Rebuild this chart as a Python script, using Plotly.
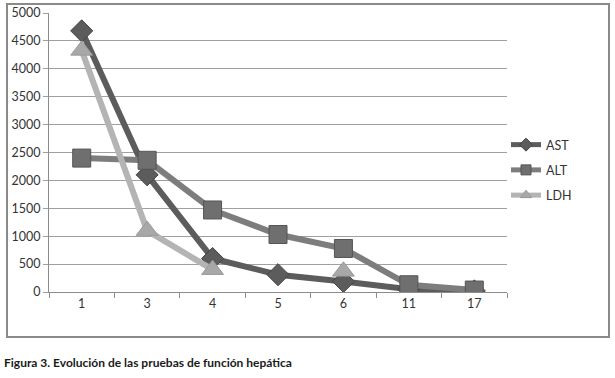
import plotly.graph_objects as go

categories = ["1", "3", "4", "5", "6", "11", "17"]
ast = [4680, 2100, 600, 310, 190, 50, 20]
alt = [2400, 2360, 1470, 1030, 780, 130, 35]
ldh = [4330, 1100, 400, None, 370, None, None]
y_ticks = [0, 500, 1000, 1500, 2000, 2500, 3000, 3500, 4000, 4500, 5000]
caption = "Figura 3. Evolución de las pruebas de función hepática"

W, H = 615, 378
L, R, T, B = 49, 108, 13, 86
pw, ph = W - L - R, H - T - B


def px(xp):
    return (xp - L) / pw


def py(yp):
    return (H - B - yp) / ph


series = [
    ("AST", ast, "#5c5c5c", "#5c5c5c", "#444444", "diamond", 17),
    ("ALT", alt, "#7d7d7d", "#6f6f6f", "#555555", "square", 18),
    ("LDH", ldh, "#b4b4b4", "#a8a8a8", "#999999", "triangle-up", 19),
]

fig = go.Figure()
for name, vals, lc, mc, ml, sym, sz in series:
    fig.add_trace(go.Scatter(
        x=categories, y=vals, name=name, mode="lines+markers", showlegend=False,
        line=dict(color=lc, width=6),
        marker=dict(symbol=sym, size=sz, color=mc, line=dict(color=ml, width=1)),
        connectgaps=False,
    ))
for name, vals, lc, mc, ml, sym, sz in series:
    fig.add_trace(go.Scatter(
        x=[None], y=[None], name=name, mode="lines+markers", legendgroup=name,
        line=dict(color=lc, width=5),
        marker=dict(symbol=sym, size=10, color=mc, line=dict(color=ml, width=1)),
    ))

fig.add_shape(type="rect", xref="paper", yref="paper",
              x0=px(7), x1=px(609), y0=py(337), y1=py(4),
              line=dict(color="#8a8a8a", width=2), fillcolor="rgba(0,0,0,0)", layer="above")

fig.add_annotation(text="<b>" + caption + "</b>", xref="paper", yref="paper",
                   x=px(2), y=py(362), xanchor="left", yanchor="middle", showarrow=False,
                   font=dict(family="Lato, Roboto, sans-serif", size=12, color="#1a1a1a"))

fig.update_layout(
    width=W, height=H,
    margin=dict(l=L, r=R, t=T, b=B, autoexpand=False),
    paper_bgcolor="white", plot_bgcolor="white",
    font=dict(family="Lato, Open Sans, sans-serif", size=12.5, color="#333333"),
    legend=dict(x=px(506), y=py(130), xanchor="left", yanchor="top",
                font=dict(size=12.5, color="#333"),
                tracegroupgap=6, traceorder="grouped", itemwidth=30,
                bgcolor="rgba(0,0,0,0)"),
    xaxis=dict(type="category", showgrid=False, showline=True, linecolor="#8c8c8c", linewidth=1,
               ticks="outside", tickson="boundaries", ticklen=5, tickcolor="#8c8c8c",
               range=[-0.5, len(categories) - 0.5], zeroline=False, automargin=False,
               tickfont=dict(size=12.5, color="#333333")),
    yaxis=dict(range=[0, 5000], tickvals=y_ticks, showgrid=True, gridcolor="#a0a0a0", gridwidth=1,
               showline=True, linecolor="#8c8c8c", linewidth=1, zeroline=False,
               ticks="outside", ticklen=5, tickcolor="#a0a0a0", automargin=False,
               tickfont=dict(size=12.5, color="#333333")),
    showlegend=True,
)

fig.write_html("out.html", config={"displayModeBar": False},
               post_script="document.body.style.margin='0';document.body.style.padding='0';")
